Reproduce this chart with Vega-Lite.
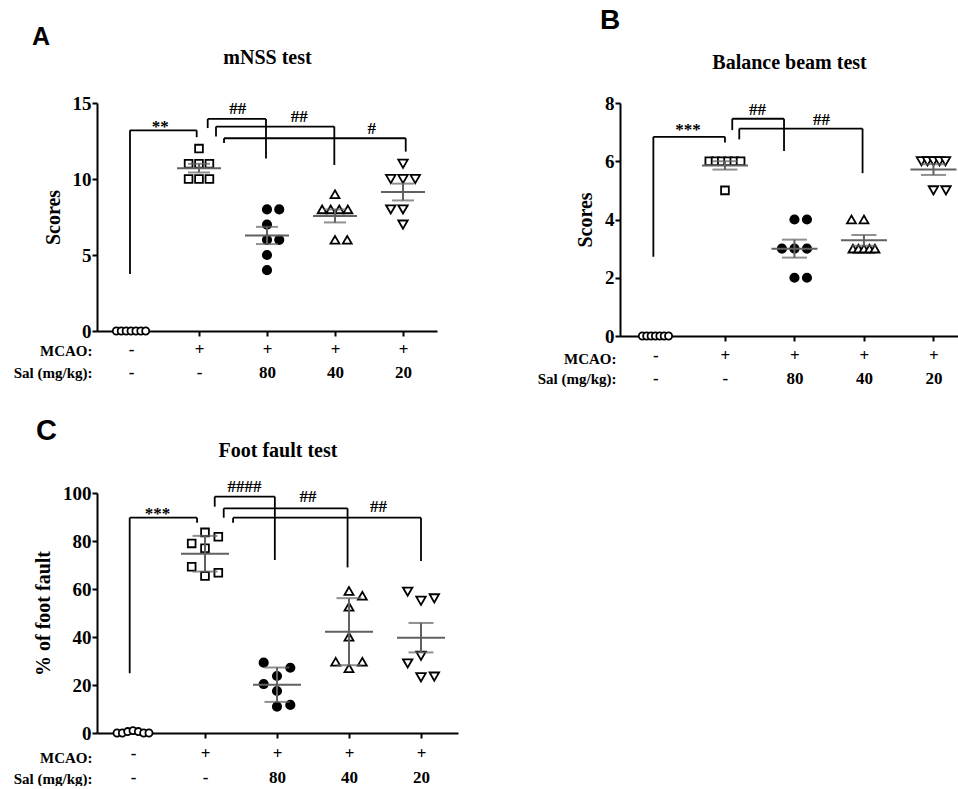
{
  "$schema": "https://vega.github.io/schema/vega-lite/v6.json",
  "background": "white",
  "padding": {"left": 13, "top": 7, "right": 0, "bottom": 0},
  "config": {
    "view": {"stroke": null},
    "font": "Liberation Serif",
    "axis": {"domainColor": "black", "domainWidth": 2, "tickColor": "black", "tickWidth": 2, "tickSize": 5, "labelColor": "black", "labelFont": "Liberation Serif", "labelFontWeight": "bold", "titleColor": "black", "titleFont": "Liberation Serif", "titleFontWeight": "bold", "grid": false},
    "title": {"font": "Liberation Sans", "fontWeight": "bold", "color": "black", "anchor": "start", "frame": "group"}
  },
  "datasets": {
    "pA": [
      {"group": 1, "value": 0, "lane": -1.2}, {"group": 1, "value": 0, "lane": -0.8}, {"group": 1, "value": 0, "lane": -0.4}, {"group": 1, "value": 0, "lane": 0}, {"group": 1, "value": 0, "lane": 0.4}, {"group": 1, "value": 0, "lane": 0.8}, {"group": 1, "value": 0, "lane": 1.2},
      {"group": 2, "value": 12, "lane": 0}, {"group": 2, "value": 11, "lane": -0.85}, {"group": 2, "value": 11, "lane": 0}, {"group": 2, "value": 11, "lane": 0.85}, {"group": 2, "value": 10, "lane": -0.85}, {"group": 2, "value": 10, "lane": 0}, {"group": 2, "value": 10, "lane": 0.85},
      {"group": 3, "value": 8, "lane": 0}, {"group": 3, "value": 8, "lane": 1}, {"group": 3, "value": 7, "lane": 0}, {"group": 3, "value": 6, "lane": 0}, {"group": 3, "value": 6, "lane": 1}, {"group": 3, "value": 5, "lane": 0}, {"group": 3, "value": 4, "lane": 0},
      {"group": 4, "value": 9, "lane": 0}, {"group": 4, "value": 8, "lane": -1.05}, {"group": 4, "value": 8, "lane": -0.35}, {"group": 4, "value": 8, "lane": 0.35}, {"group": 4, "value": 8, "lane": 1.05}, {"group": 4, "value": 6, "lane": 0}, {"group": 4, "value": 6, "lane": 1},
      {"group": 5, "value": 11, "lane": 0}, {"group": 5, "value": 10, "lane": -1}, {"group": 5, "value": 10, "lane": 0}, {"group": 5, "value": 10, "lane": 1}, {"group": 5, "value": 8, "lane": -1}, {"group": 5, "value": 8, "lane": 0}, {"group": 5, "value": 7, "lane": 0}
    ],
    "bA": [
      {"xl": 0.985, "xr": 1.966, "h": 13.2, "yl": 3.75, "yr": 12.75},
      {"xl": 2.128, "xr": 2.985, "h": 13.95, "yl": 13.35, "yr": 11.35},
      {"xl": 2.25, "xr": 3.99, "h": 13.45, "yl": 12.8, "yr": 10.92},
      {"xl": 2.368, "xr": 5.04, "h": 12.68, "yl": 12.37, "yr": 11.8}
    ],
    "sA": [
      {"x": 1.43, "y": 13.42, "label": "**"},
      {"x": 2.57, "y": 14.63, "label": "##"},
      {"x": 3.475, "y": 14.08, "label": "##"},
      {"x": 4.54, "y": 13.29, "label": "#"}
    ],
    "pB": [
      {"group": 1, "value": 0, "lane": -1.05}, {"group": 1, "value": 0, "lane": -0.7}, {"group": 1, "value": 0, "lane": -0.35}, {"group": 1, "value": 0, "lane": 0}, {"group": 1, "value": 0, "lane": 0.35}, {"group": 1, "value": 0, "lane": 0.7}, {"group": 1, "value": 0, "lane": 1.05},
      {"group": 2, "value": 6, "lane": -1.25}, {"group": 2, "value": 6, "lane": -0.75}, {"group": 2, "value": 6, "lane": -0.25}, {"group": 2, "value": 6, "lane": 0.25}, {"group": 2, "value": 6, "lane": 0.75}, {"group": 2, "value": 6, "lane": 1.25}, {"group": 2, "value": 5, "lane": 0},
      {"group": 3, "value": 4, "lane": 0}, {"group": 3, "value": 4, "lane": 1}, {"group": 3, "value": 3, "lane": -1}, {"group": 3, "value": 3, "lane": 0}, {"group": 3, "value": 3, "lane": 1}, {"group": 3, "value": 2, "lane": 0}, {"group": 3, "value": 2, "lane": 1},
      {"group": 4, "value": 4, "lane": -1}, {"group": 4, "value": 4, "lane": 0}, {"group": 4, "value": 3, "lane": -0.88}, {"group": 4, "value": 3, "lane": -0.44}, {"group": 4, "value": 3, "lane": 0}, {"group": 4, "value": 3, "lane": 0.44}, {"group": 4, "value": 3, "lane": 0.88},
      {"group": 5, "value": 6, "lane": -0.96}, {"group": 5, "value": 6, "lane": -0.48}, {"group": 5, "value": 6, "lane": 0}, {"group": 5, "value": 6, "lane": 0.48}, {"group": 5, "value": 6, "lane": 0.96}, {"group": 5, "value": 5, "lane": 0}, {"group": 5, "value": 5, "lane": 1}
    ],
    "bB": [
      {"xl": 0.97, "xr": 2.0, "h": 6.84, "yl": 2.72, "yr": 6.64},
      {"xl": 2.105, "xr": 2.85, "h": 7.46, "yl": 7.07, "yr": 6.35},
      {"xl": 2.206, "xr": 3.98, "h": 7.12, "yl": 6.75, "yr": 5.59}
    ],
    "sB": [
      {"x": 1.47, "y": 7.07, "label": "***"},
      {"x": 2.47, "y": 7.76, "label": "##"},
      {"x": 3.39, "y": 7.42, "label": "##"}
    ],
    "pC": [
      {"group": 1, "value": 0, "lane": -1.2}, {"group": 1, "value": 0, "lane": -0.8}, {"group": 1, "value": 0.6, "lane": -0.4}, {"group": 1, "value": 1, "lane": 0}, {"group": 1, "value": 0.6, "lane": 0.4}, {"group": 1, "value": 0, "lane": 0.8}, {"group": 1, "value": 0, "lane": 1.2},
      {"group": 2, "value": 83.6, "lane": 0}, {"group": 2, "value": 81.8, "lane": 1}, {"group": 2, "value": 79.0, "lane": -1}, {"group": 2, "value": 77.0, "lane": 0}, {"group": 2, "value": 69.3, "lane": -1}, {"group": 2, "value": 66.8, "lane": 1}, {"group": 2, "value": 65.4, "lane": 0},
      {"group": 3, "value": 29.3, "lane": -1}, {"group": 3, "value": 27.2, "lane": 1}, {"group": 3, "value": 23.75, "lane": 0}, {"group": 3, "value": 20.4, "lane": -1}, {"group": 3, "value": 17.5, "lane": 0}, {"group": 3, "value": 11.0, "lane": 0}, {"group": 3, "value": 11.7, "lane": 1},
      {"group": 4, "value": 59.2, "lane": 0}, {"group": 4, "value": 57.2, "lane": 1}, {"group": 4, "value": 52.6, "lane": 0}, {"group": 4, "value": 40.1, "lane": 0}, {"group": 4, "value": 29.7, "lane": -1}, {"group": 4, "value": 29.7, "lane": 1}, {"group": 4, "value": 27.0, "lane": 0},
      {"group": 5, "value": 58.9, "lane": -1}, {"group": 5, "value": 55.1, "lane": 0}, {"group": 5, "value": 56.1, "lane": 1}, {"group": 5, "value": 32.2, "lane": 0}, {"group": 5, "value": 29.0, "lane": -1}, {"group": 5, "value": 23.2, "lane": 0}, {"group": 5, "value": 23.5, "lane": 1}
    ],
    "bC": [
      {"xl": 0.954, "xr": 1.89, "h": 89.7, "yl": 24.9, "yr": 87.6},
      {"xl": 2.135, "xr": 2.97, "h": 98.5, "yl": 94.3, "yr": 72.1},
      {"xl": 2.26, "xr": 3.98, "h": 93.6, "yl": 89.7, "yr": 69.0},
      {"xl": 2.39, "xr": 5.0, "h": 89.7, "yl": 87.6, "yr": 71.7}
    ],
    "sC": [
      {"x": 1.34, "y": 91.2, "label": "***"},
      {"x": 2.55, "y": 102.4, "label": "####"},
      {"x": 3.43, "y": 98.5, "label": "##"},
      {"x": 4.41, "y": 94.3, "label": "##"}
    ]
  },
  "concat": [
    {
      "width": 340, "height": 228,
      "title": {"text": "A", "fontSize": 25, "dx": -65, "dy": 3, "offset": 0},
      "resolve": {"axis": {"x": "independent", "y": "independent"}},
      "layer": [
        {"data": {"name": "bA"}, "mark": {"type": "rule", "strokeWidth": 1.8, "color": "black"},
         "encoding": {"x": {"field": "xl", "type": "quantitative", "axis": {"orient": "top", "domain": false, "ticks": false, "labels": false, "minExtent": 0, "title": "mNSS test", "titleFontSize": 20, "titlePadding": 36}},
                      "x2": {"field": "xr"}, "y": {"field": "h", "type": "quantitative", "axis": null}}},
        {"data": {"name": "bA"}, "mark": {"type": "rule", "strokeWidth": 1.8, "color": "black"},
         "encoding": {"x": {"field": "xl", "type": "quantitative", "axis": null}, "y": {"field": "yl", "type": "quantitative", "axis": null}, "y2": {"field": "h"}}},
        {"data": {"name": "bA"}, "mark": {"type": "rule", "strokeWidth": 1.8, "color": "black"},
         "encoding": {"x": {"field": "xr", "type": "quantitative", "axis": null}, "y": {"field": "yr", "type": "quantitative", "axis": null}, "y2": {"field": "h"}}},
        {"data": {"name": "sA"}, "mark": {"type": "text", "font": "Liberation Serif", "fontWeight": "bold", "fontSize": 17, "baseline": "middle", "color": "black"},
         "encoding": {"x": {"field": "x", "type": "quantitative", "axis": null}, "y": {"field": "y", "type": "quantitative", "axis": null}, "text": {"field": "label"}}},
        {"data": {"name": "pA"},
         "transform": [{"calculate": "datum.group + datum.lane * 0.18", "as": "xp"}],
         "mark": {"type": "point", "filled": true, "stroke": "black", "strokeWidth": 1.8, "opacity": 1},
         "encoding": {
           "x": {"field": "xp", "type": "quantitative", "scale": {"domain": [0.5, 5.5], "nice": false, "zero": false},
                 "axis": {"orient": "bottom", "values": [1, 2, 3, 4, 5], "labelExpr": "datum.value == 1 ? ['-', '-'] : datum.value == 2 ? ['+', '-'] : datum.value == 3 ? ['+', '80'] : datum.value == 4 ? ['+', '40'] : ['+', '20']",
                          "labelFontSize": 17, "labelBaseline": "top", "labelLineHeight": 23, "labelPadding": 5, "labelAlign": "center", "labelFlush": false, "labelOverlap": false,
                          "tickOpacity": {"condition": {"test": "datum.value == 1", "value": 0}, "value": 1},
                          "title": ["MCAO:", "Sal (mg/kg):"], "titleFontSize": 15, "titleAlign": "right", "titleBaseline": "top", "titleX": -5, "titleY": 12, "titleLineHeight": 22}},
           "y": {"field": "value", "type": "quantitative", "scale": {"domain": [0, 15], "nice": false},
                 "axis": {"values": [0, 5, 10, 15], "title": "Scores", "titleFontSize": 20, "labelFontSize": 19, "labelPadding": 1, "titlePadding": 9}},
           "shape": {"field": "group", "type": "nominal", "scale": {"domain": [1, 2, 3, 4, 5], "range": ["circle", "square", "circle", "triangle-up", "triangle-down"]}, "legend": null},
           "fill": {"field": "group", "type": "nominal", "scale": {"domain": [1, 2, 3, 4, 5], "range": ["white", "white", "black", "white", "white"]}, "legend": null},
           "size": {"field": "group", "type": "nominal", "scale": {"domain": [1, 2, 3, 4, 5], "range": [50, 90, 140, 120, 120]}, "legend": null}
         }},
        {"data": {"name": "pA"}, "transform": [{"filter": "datum.group > 1"}],
         "mark": {"type": "errorbar", "extent": "stderr", "orient": "vertical", "ticks": true, "size": 22, "thickness": 2, "color": "#616161"},
         "encoding": {"x": {"field": "group", "type": "quantitative", "axis": null}, "y": {"field": "value", "type": "quantitative", "axis": null}}},
        {"data": {"name": "pA"}, "transform": [{"filter": "datum.group > 1"}],
         "mark": {"type": "tick", "orient": "horizontal", "size": 44, "thickness": 2, "color": "#616161"},
         "encoding": {"x": {"field": "group", "type": "quantitative", "axis": null}, "y": {"aggregate": "mean", "field": "value", "type": "quantitative", "axis": null}}}
      ]
    },
    {
      "width": 338, "height": 233,
      "title": {"text": "B", "fontSize": 28, "dx": -20, "dy": -17, "offset": 0},
      "resolve": {"axis": {"x": "independent", "y": "independent"}},
      "layer": [
        {"data": {"name": "bB"}, "mark": {"type": "rule", "strokeWidth": 1.8, "color": "black"},
         "encoding": {"x": {"field": "xl", "type": "quantitative", "axis": {"orient": "top", "domain": false, "ticks": false, "labels": false, "minExtent": 0, "title": "Balance beam test", "titleFontSize": 20, "titlePadding": 31}},
                      "x2": {"field": "xr"}, "y": {"field": "h", "type": "quantitative", "axis": null}}},
        {"data": {"name": "bB"}, "mark": {"type": "rule", "strokeWidth": 1.8, "color": "black"},
         "encoding": {"x": {"field": "xl", "type": "quantitative", "axis": null}, "y": {"field": "yl", "type": "quantitative", "axis": null}, "y2": {"field": "h"}}},
        {"data": {"name": "bB"}, "mark": {"type": "rule", "strokeWidth": 1.8, "color": "black"},
         "encoding": {"x": {"field": "xr", "type": "quantitative", "axis": null}, "y": {"field": "yr", "type": "quantitative", "axis": null}, "y2": {"field": "h"}}},
        {"data": {"name": "sB"}, "mark": {"type": "text", "font": "Liberation Serif", "fontWeight": "bold", "fontSize": 17, "baseline": "middle", "color": "black"},
         "encoding": {"x": {"field": "x", "type": "quantitative", "axis": null}, "y": {"field": "y", "type": "quantitative", "axis": null}, "text": {"field": "label"}}},
        {"data": {"name": "pB"},
         "transform": [{"calculate": "datum.group + datum.lane * 0.18", "as": "xp"}],
         "mark": {"type": "point", "filled": true, "stroke": "black", "strokeWidth": 1.8, "opacity": 1},
         "encoding": {
           "x": {"field": "xp", "type": "quantitative", "scale": {"domain": [0.49, 5.353], "nice": false, "zero": false},
                 "axis": {"orient": "bottom", "values": [1, 2, 3, 4, 5], "labelExpr": "datum.value == 1 ? ['-', '-'] : datum.value == 2 ? ['+', '-'] : datum.value == 3 ? ['+', '80'] : datum.value == 4 ? ['+', '40'] : ['+', '20']",
                          "labelFontSize": 17, "labelBaseline": "top", "labelLineHeight": 23, "labelPadding": 6, "labelAlign": "center", "labelFlush": false, "labelOverlap": false,
                          "tickOpacity": {"condition": {"test": "datum.value == 1", "value": 0}, "value": 1},
                          "title": ["MCAO:", "Sal (mg/kg):"], "titleFontSize": 15, "titleAlign": "right", "titleBaseline": "top", "titleX": -4, "titleY": 15, "titleLineHeight": 20}},
           "y": {"field": "value", "type": "quantitative", "scale": {"domain": [0, 8], "nice": false},
                 "axis": {"values": [0, 2, 4, 6, 8], "title": "Scores", "titleFontSize": 20, "labelFontSize": 19, "labelPadding": 1, "titlePadding": 9}},
           "shape": {"field": "group", "type": "nominal", "scale": {"domain": [1, 2, 3, 4, 5], "range": ["circle", "square", "circle", "triangle-up", "triangle-down"]}, "legend": null},
           "fill": {"field": "group", "type": "nominal", "scale": {"domain": [1, 2, 3, 4, 5], "range": ["white", "white", "black", "white", "white"]}, "legend": null},
           "size": {"field": "group", "type": "nominal", "scale": {"domain": [1, 2, 3, 4, 5], "range": [50, 90, 140, 120, 120]}, "legend": null}
         }},
        {"data": {"name": "pB"}, "transform": [{"filter": "datum.group > 1"}],
         "mark": {"type": "errorbar", "extent": "stderr", "orient": "vertical", "ticks": true, "size": 25, "thickness": 2, "color": "#616161"},
         "encoding": {"x": {"field": "group", "type": "quantitative", "axis": null}, "y": {"field": "value", "type": "quantitative", "axis": null}}},
        {"data": {"name": "pB"}, "transform": [{"filter": "datum.group > 1"}],
         "mark": {"type": "tick", "orient": "horizontal", "size": 46, "thickness": 2, "color": "#616161"},
         "encoding": {"x": {"field": "group", "type": "quantitative", "axis": null}, "y": {"aggregate": "mean", "field": "value", "type": "quantitative", "axis": null}}}
      ]
    },
    {
      "width": 361, "height": 240,
      "title": {"text": "C", "fontSize": 29, "dx": -61, "dy": 6, "offset": 0},
      "resolve": {"axis": {"x": "independent", "y": "independent"}},
      "layer": [
        {"data": {"name": "bC"}, "mark": {"type": "rule", "strokeWidth": 1.8, "color": "black"},
         "encoding": {"x": {"field": "xl", "type": "quantitative", "axis": {"orient": "top", "domain": false, "ticks": false, "labels": false, "minExtent": 0, "title": "Foot fault test", "titleFontSize": 20, "titlePadding": 33}},
                      "x2": {"field": "xr"}, "y": {"field": "h", "type": "quantitative", "axis": null}}},
        {"data": {"name": "bC"}, "mark": {"type": "rule", "strokeWidth": 1.8, "color": "black"},
         "encoding": {"x": {"field": "xl", "type": "quantitative", "axis": null}, "y": {"field": "yl", "type": "quantitative", "axis": null}, "y2": {"field": "h"}}},
        {"data": {"name": "bC"}, "mark": {"type": "rule", "strokeWidth": 1.8, "color": "black"},
         "encoding": {"x": {"field": "xr", "type": "quantitative", "axis": null}, "y": {"field": "yr", "type": "quantitative", "axis": null}, "y2": {"field": "h"}}},
        {"data": {"name": "sC"}, "mark": {"type": "text", "font": "Liberation Serif", "fontWeight": "bold", "fontSize": 17, "baseline": "middle", "color": "black"},
         "encoding": {"x": {"field": "x", "type": "quantitative", "axis": null}, "y": {"field": "y", "type": "quantitative", "axis": null}, "text": {"field": "label"}}},
        {"data": {"name": "pC"},
         "transform": [{"calculate": "datum.group + datum.lane * 0.185", "as": "xp"}],
         "mark": {"type": "point", "filled": true, "stroke": "black", "strokeWidth": 1.8, "opacity": 1},
         "encoding": {
           "x": {"field": "xp", "type": "quantitative", "scale": {"domain": [0.5, 5.514], "nice": false, "zero": false},
                 "axis": {"orient": "bottom", "values": [1, 2, 3, 4, 5], "labelExpr": "datum.value == 1 ? ['-', '-'] : datum.value == 2 ? ['+', '-'] : datum.value == 3 ? ['+', '80'] : datum.value == 4 ? ['+', '40'] : ['+', '20']",
                          "labelFontSize": 17, "labelBaseline": "top", "labelLineHeight": 24, "labelPadding": 7, "labelAlign": "center", "labelFlush": false, "labelOverlap": false,
                          "tickOpacity": {"condition": {"test": "datum.value == 1", "value": 0}, "value": 1},
                          "title": ["MCAO:", "Sal (mg/kg):"], "titleFontSize": 15, "titleAlign": "right", "titleBaseline": "top", "titleX": -5, "titleY": 17, "titleLineHeight": 21}},
           "y": {"field": "value", "type": "quantitative", "scale": {"domain": [0, 100], "nice": false},
                 "axis": {"values": [0, 20, 40, 60, 80, 100], "title": "% of foot fault", "titleFontSize": 20, "labelFontSize": 19, "labelPadding": 1, "titlePadding": 9}},
           "shape": {"field": "group", "type": "nominal", "scale": {"domain": [1, 2, 3, 4, 5], "range": ["circle", "square", "circle", "triangle-up", "triangle-down"]}, "legend": null},
           "fill": {"field": "group", "type": "nominal", "scale": {"domain": [1, 2, 3, 4, 5], "range": ["white", "white", "black", "white", "white"]}, "legend": null},
           "size": {"field": "group", "type": "nominal", "scale": {"domain": [1, 2, 3, 4, 5], "range": [50, 90, 140, 120, 120]}, "legend": null}
         }},
        {"data": {"name": "pC"}, "transform": [{"filter": "datum.group > 1 && datum.group < 5"}],
         "mark": {"type": "errorbar", "extent": "stdev", "orient": "vertical", "ticks": true, "size": 25, "thickness": 2, "color": "#616161"},
         "encoding": {"x": {"field": "group", "type": "quantitative", "axis": null}, "y": {"field": "value", "type": "quantitative", "axis": null}}},
        {"data": {"name": "pC"}, "transform": [{"filter": "datum.group == 5"}],
         "mark": {"type": "errorbar", "extent": "stderr", "orient": "vertical", "ticks": true, "size": 25, "thickness": 2, "color": "#616161"},
         "encoding": {"x": {"field": "group", "type": "quantitative", "axis": null}, "y": {"field": "value", "type": "quantitative", "axis": null}}},
        {"data": {"name": "pC"}, "transform": [{"filter": "datum.group > 1"}],
         "mark": {"type": "tick", "orient": "horizontal", "size": 48, "thickness": 2, "color": "#616161"},
         "encoding": {"x": {"field": "group", "type": "quantitative", "axis": null}, "y": {"aggregate": "mean", "field": "value", "type": "quantitative", "axis": null}}}
      ]
    }
  ],
  "columns": 2,
  "align": "each",
  "bounds": "flush",
  "spacing": {"row": 157, "column": 162}
}
